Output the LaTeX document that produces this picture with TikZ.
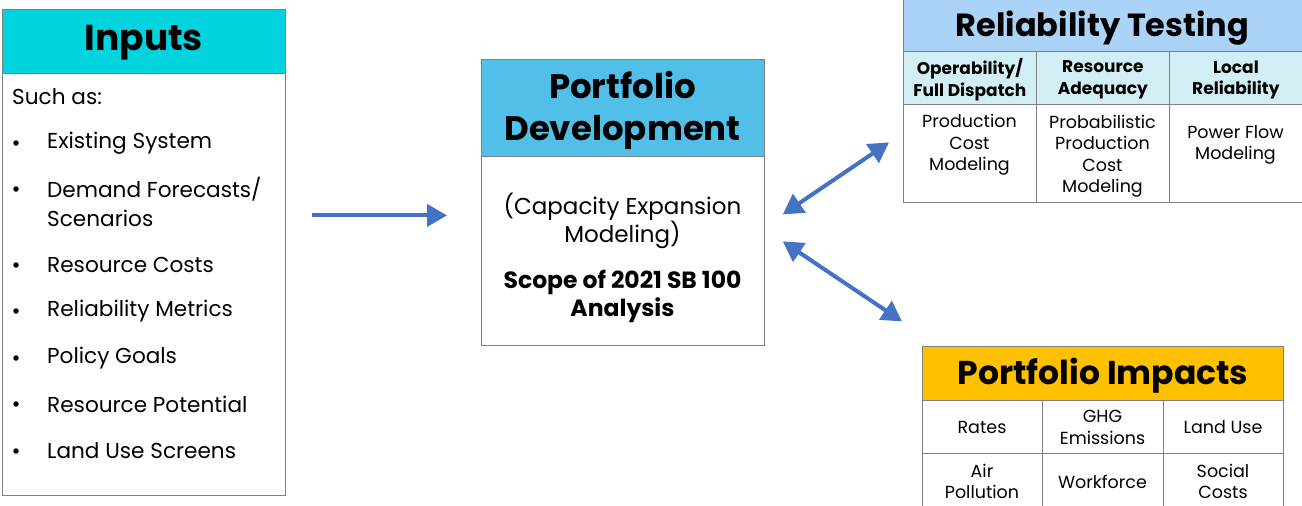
\documentclass[tikz,border=0pt]{standalone}
\usepackage{fontspec}
\setmainfont{Poppins}
\usetikzlibrary{arrows.meta,calc}
\definecolor{cyanhdr}{HTML}{00D2DE}
\definecolor{pdhdr}{HTML}{52BFE8}
\definecolor{rthdr}{HTML}{AAD3F7}
\definecolor{rtsub}{HTML}{D2EEF5}
\definecolor{pihdr}{HTML}{FFC000}
\definecolor{bordergray}{HTML}{808080}
\definecolor{arrblue}{HTML}{4472C4}
\begin{document}
\begin{tikzpicture}[x=1pt,y=-1pt,
  cell/.style={draw=bordergray, line width=0.8pt, inner sep=0pt, anchor=north west},
  ttl/.style={font=\bfseries\fontsize{34}{42}\selectfont, inner sep=0pt},
  body/.style={font=\fontsize{21.6}{29}\selectfont, inner sep=0pt, anchor=west},
  bul/.style={circle, fill=black, inner sep=0pt, minimum size=5.5pt},
  small/.style={font=\fontsize{17.5}{21.5}\selectfont, inner sep=0pt, align=center},
  smallb/.style={font=\bfseries\fontsize{17}{21.5}\selectfont, inner sep=0pt, align=center},
  mid/.style={font=\fontsize{23}{28}\selectfont, inner sep=0pt, align=center},
  midb/.style={font=\bfseries\fontsize{23.5}{28}\selectfont, inner sep=0pt, align=center},
  arr/.style={draw=arrblue, line width=4pt, -{Triangle[length=20pt,width=22pt]}},
  darr/.style={draw=arrblue, line width=4pt, {Triangle[length=20pt,width=22pt]}-{Triangle[length=20pt,width=22pt]}}]
\useasboundingbox (0,0) rectangle (1302,506);
\begin{scope}
\clip (0,0) rectangle (1302,506);
% Inputs
\node[cell, fill=cyanhdr, minimum width=283pt, minimum height=64pt] (inh) at (2,9) {};
\node[ttl, font=\bfseries\fontsize{36}{42}\selectfont] (inht) at ($(inh.center)+(0,1)$) {Inputs};
\node[cell, minimum width=283pt, minimum height=422pt] (inb) at (2,73) {};
\node[body] (i0) at (12,97) {Such as:};
\foreach \n/\y/\t in {1/143/{Existing System},2/189/{Demand Forecasts/},3/265/{Resource Costs},4/311/{Reliability Metrics},5/358/{Policy Goals},6/404/{Resource Potential},7/451/{Land Use Screens}}{
  \node[body] (i\n) at (47,\y) {\t};
  \node[bul] (b\n) at (16,\y) {};
}
\node[body] (i2b) at (47,218) {Scenarios};
% Portfolio development
\node[cell, fill=pdhdr, minimum width=283pt, minimum height=97pt] (pdh) at (481,59) {};
\node[ttl, align=center] (pdht) at (622.5,110) {Portfolio\\Development};
\node[cell, minimum width=283pt, minimum height=189pt] (pdb) at (481,156) {};
\node[mid] (pd1) at (622.5,221) {(Capacity Expansion\\Modeling)};
\node[midb] (pd2) at (622.5,296) {Scope of 2021 SB 100\\Analysis};
% Reliability testing
\node[cell, fill=rthdr, minimum width=399pt, minimum height=52pt] (rth) at (903,-1) {};
\node[ttl, font=\bfseries\fontsize{32}{42}\selectfont] (rtht) at (1102.5,28) {Reliability Testing};
\node[cell, fill=rtsub, minimum width=133pt, minimum height=53pt] (rs1) at (903,51) {};
\node[cell, fill=rtsub, minimum width=133pt, minimum height=53pt] (rs2) at (1036,51) {};
\node[cell, fill=rtsub, minimum width=133pt, minimum height=53pt] (rs3) at (1169,51) {};
\node[smallb] (rs1t) at ($(rs1.center)+(0,2)$) {Operability/\\Full Dispatch};
\node[smallb] (rs2t) at ($(rs2.center)+(0,2)$) {Resource\\Adequacy};
\node[smallb] (rs3t) at ($(rs3.center)+(0,2)$) {Local\\Reliability};
\node[cell, minimum width=133pt, minimum height=98pt] (rb1) at (903,104) {};
\node[cell, minimum width=133pt, minimum height=98pt] (rb2) at (1036,104) {};
\node[cell, minimum width=133pt, minimum height=98pt] (rb3) at (1169,104) {};
\node[small] (rb1t) at (969.5,145) {Production\\Cost\\Modeling};
\node[small] (rb2t) at (1102.5,156) {Probabilistic\\Production\\Cost\\Modeling};
\node[small] (rb3t) at (1235.5,145) {Power Flow\\Modeling};
% Portfolio impacts
\node[cell, fill=pihdr, minimum width=361pt, minimum height=54pt] (pih) at (922,346) {};
\node[ttl, font=\bfseries\fontsize{33}{42}\selectfont] (piht) at ($(pih.center)+(0,2)$) {Portfolio Impacts};
\node[cell, minimum width=120.3pt, minimum height=53pt] (p11) at (922,400) {};
\node[cell, minimum width=120.3pt, minimum height=53pt] (p12) at (1042.3,400) {};
\node[cell, minimum width=120.4pt, minimum height=53pt] (p13) at (1162.6,400) {};
\node[cell, minimum width=120.3pt, minimum height=56pt] (p21) at (922,453) {};
\node[cell, minimum width=120.3pt, minimum height=56pt] (p22) at (1042.3,453) {};
\node[cell, minimum width=120.4pt, minimum height=56pt] (p23) at (1162.6,453) {};
\node[small] (p11t) at (982,427.5) {Rates};
\node[small] (p12t) at (1102.5,427.5) {GHG\\Emissions};
\node[small] (p13t) at (1223,427.5) {Land Use};
\node[small] (p21t) at (982,481.5) {Air\\Pollution};
\node[small] (p22t) at (1102.5,481.5) {Workforce};
\node[small] (p23t) at (1223,481.5) {Social\\Costs};
\end{scope}
% Arrows
\draw[arr] ($(inb.east)+(26,-69)$) -- ($(pdb.west)+(-34,-35.5)$);
\draw[darr] ($(pdb.east)+(18,-36.5)$) -- ($(rb1.west)+(-14,-11)$);
\draw[darr] ($(pdb.east)+(18,-9.5)$) -- ($(pih.west)+(-20,-52)$);
\end{tikzpicture}
\end{document}
